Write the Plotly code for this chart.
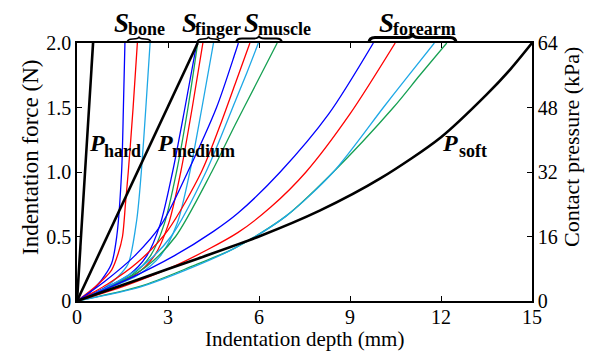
import plotly.graph_objects as go

# ---------------- data ----------------
# Phantom reference lines (depth mm, force N)
p_hard_x = [0, 0.53]
p_hard_y = [0, 2.0]
p_medium_x = [0, 3.98]
p_medium_y = [0, 2.0]
p_soft_x = [0, 2.0, 4.0, 6.0, 8.0, 10.0, 12.0, 13.5, 14.3, 15.0]
p_soft_y = [0, 0.165, 0.33, 0.5, 0.7, 0.95, 1.27, 1.6, 1.8, 2.0]

# S_bone
bone_blue_x = [0, 0.4, 0.8, 1.14, 1.31, 1.47, 1.53, 1.58]
bone_blue_y = [0, 0.06, 0.16, 0.29, 0.5, 1.0, 1.5, 2.0]
bone_red_x = [0, 0.6, 1.14, 1.36, 1.5, 1.6, 1.69, 1.85, 1.99]
bone_red_y = [0, 0.11, 0.24, 0.37, 0.5, 0.76, 1.0, 1.5, 2.0]
bone_cyan_x = [0, 0.8, 1.36, 1.69, 1.97, 2.12, 2.27, 2.41]
bone_cyan_y = [0, 0.085, 0.19, 0.29, 0.63, 1.0, 1.5, 2.0]

# S_finger
finger_y = [0, 0.1, 0.2, 0.35, 0.6, 1.0, 1.5, 2.0]
finger_blue_x = [0, 0.9, 1.7, 2.3, 2.75, 3.15, 3.56, 3.95]
finger_green_x = [0, 0.95, 1.8, 2.42, 2.88, 3.28, 3.66, 3.98]
finger_red_x = [0, 1.0, 1.9, 2.55, 3.02, 3.42, 3.8, 4.15]
finger_cyan_x = [0, 1.05, 2.0, 2.75, 3.3, 3.72, 4.12, 4.5]

# S_muscle
muscle_blue_x = [0, 0.9, 1.9, 2.8, 3.65, 4.6, 5.21, 5.32]
muscle_blue_y = [0, 0.15, 0.35, 0.6, 1.0, 1.5, 1.92, 2.0]
muscle_red_x = [0, 1.0, 2.0, 3.0, 4.1, 4.7, 5.21, 5.70]
muscle_red_y = [0, 0.13, 0.3, 0.55, 1.0, 1.35, 1.68, 2.0]
muscle_cyan_x = [0, 1.1, 2.2, 3.1, 4.25, 5.21, 5.6, 5.98]
muscle_cyan_y = [0, 0.12, 0.28, 0.5, 1.0, 1.545, 1.77, 2.0]
muscle_green_x = [0, 1.2, 2.3, 3.25, 4.44, 5.21, 5.9, 6.6]
muscle_green_y = [0, 0.12, 0.27, 0.5, 1.0, 1.364, 1.68, 2.0]

# S_forearm
forearm_blue_x = [0, 1.6, 3.2, 4.5, 5.3, 6.7, 8.3, 9.77]
forearm_blue_y = [0, 0.16, 0.35, 0.54, 0.68, 1.0, 1.45, 2.0]
forearm_red_x = [0, 1.6, 3.3, 5.3, 6.4, 7.55, 9.0, 10.49]
forearm_red_y = [0, 0.12, 0.28, 0.53, 0.73, 1.0, 1.45, 2.0]
forearm_cyan_x = [0, 2.1, 3.8, 5.2, 6.9, 8.45, 10.1, 10.9, 11.78]
forearm_cyan_y = [0, 0.11, 0.26, 0.41, 0.66, 1.0, 1.5, 1.74, 2.0]
forearm_green_x = [0, 2.1, 3.8, 5.2, 6.9, 8.45, 10.43, 11.3, 12.19]
forearm_green_y = [0, 0.115, 0.27, 0.41, 0.66, 1.0, 1.5, 1.75, 2.0]

# axes
x_ticks = [0, 3, 6, 9, 12, 15]
force_ticks = [0, 0.5, 1.0, 1.5, 2.0]
force_labels = ["0", "0.5", "1.0", "1.5", "2.0"]
pressure_ticks = [0, 16, 32, 48, 64]
x_title = "Indentation depth (mm)"
y_title = "Indentation force (N)"
y2_title = "Contact pressure (kPa)"

# ---------------- styles ----------------
BLUE = "#0000ff"
RED = "#ff0000"
CYAN = "#1ea8e6"
GREEN = "#16a052"
FONT = "Liberation Serif, Times New Roman, Times, serif"

fig = go.Figure()

colored = [
    (bone_blue_x, bone_blue_y, BLUE), (bone_red_x, bone_red_y, RED),
    (bone_cyan_x, bone_cyan_y, CYAN),
    (finger_cyan_x, finger_y, CYAN), (finger_red_x, finger_y, RED),
    (finger_green_x, finger_y, GREEN), (finger_blue_x, finger_y, BLUE),
    (muscle_green_x, muscle_green_y, GREEN), (muscle_cyan_x, muscle_cyan_y, CYAN),
    (muscle_red_x, muscle_red_y, RED), (muscle_blue_x, muscle_blue_y, BLUE),
    (forearm_green_x, forearm_green_y, GREEN), (forearm_cyan_x, forearm_cyan_y, CYAN),
    (forearm_red_x, forearm_red_y, RED), (forearm_blue_x, forearm_blue_y, BLUE),
]
for xs, ys, c in colored:
    fig.add_trace(go.Scatter(x=xs, y=ys, mode="lines",
                             line=dict(color=c, width=1.3, shape="spline", smoothing=0.8),
                             hoverinfo="skip", showlegend=False))

for xs, ys in [(p_hard_x, p_hard_y), (p_medium_x, p_medium_y), (p_soft_x, p_soft_y)]:
    fig.add_trace(go.Scatter(x=xs, y=ys, mode="lines",
                             line=dict(color="black", width=2.6, shape="spline", smoothing=0.8),
                             hoverinfo="skip", showlegend=False))

# invisible trace to activate the right axis
fig.add_trace(go.Scatter(x=[0] * len(pressure_ticks), y=pressure_ticks, yaxis="y2",
                         mode="markers", marker=dict(opacity=0), hoverinfo="skip",
                         showlegend=False))

# page body has an 8px margin: plot area in window pixels = x 77..532, y 43..301
W, H = 593, 351
OFF = 8
PX0, PX1, PY0, PY1 = 77, 532, 43, 301
PW, PH = PX1 - PX0, PY1 - PY0
margin = dict(l=PX0 - OFF, r=W - (PX1 - OFF), t=PY0 - OFF, b=H - (PY1 - OFF))


def px2paper(px, py):
    return (px - PX0) / PW, (PY1 - py) / PH


def brace(px0, px1, yb, ym, yt, w):
    r = min(6, (px1 - px0) / 4)
    xm = (px0 + px1) / 2
    pts = {
        "a": px2paper(px0, yb), "b": px2paper(px0, ym), "c": px2paper(px0 + r, ym),
        "d": px2paper(xm - r, ym), "e": px2paper(xm, ym), "f": px2paper(xm, yt),
        "g": px2paper(xm + r, ym), "h": px2paper(px1 - r, ym), "i": px2paper(px1, ym),
        "j": px2paper(px1, yb),
    }
    p = lambda k: f"{pts[k][0]:.5f},{pts[k][1]:.5f}"
    path = (f"M{p('a')} Q{p('b')} {p('c')} L{p('d')} Q{p('e')} {p('f')} "
            f"Q{p('e')} {p('g')} L{p('h')} Q{p('i')} {p('j')}")
    return dict(type="path", xref="paper", yref="paper", path=path,
                line=dict(color="black", width=w))


shapes = [
    brace(127, 151, 43, 39, 36.5, 1.6),
    brace(197, 220, 43, 39, 36.5, 1.6),
    brace(236, 282, 43, 38.5, 35.5, 1.8),
    brace(369, 456, 43, 37.5, 33, 3.0),
]

annotations = []


def text_at(txt, px, pyc, size, xanchor="left", angle=0):
    x, y = px2paper(px, pyc)
    annotations.append(dict(
        xref="paper", yref="paper", x=x, y=y, xanchor=xanchor, yanchor="middle",
        showarrow=False, borderpad=0, text=txt, textangle=angle,
        font=dict(family=FONT, size=size, color="black")))


def label(letter, sub, px_letter, py_letter, px_sub, py_sub, size, subsize):
    text_at(f"<b><i>{letter}</i></b>", px_letter, py_letter, size)
    text_at(f"<b>{sub}</b>", px_sub, py_sub, subsize)


label("S", "bone", 113, 23, 127, 29, 27, 18)
label("S", "finger", 181, 23, 194, 29, 27, 18)
label("S", "muscle", 243, 23, 257, 29, 27, 18)
label("S", "forearm", 378, 23, 392, 29, 27, 18)
label("P", "hard", 88, 143, 103, 151, 24, 18)
label("P", "medium", 156, 143, 171, 151, 24, 18)
label("P", "soft", 441, 143, 458, 151, 24, 18)

# axis titles
text_at(x_title, 304, 339, 21, xanchor="center")
text_at(y_title, 30, 158, 23, xanchor="center", angle=-90)
text_at(y2_title, 571, 147, 22, xanchor="center", angle=-90)

axis_common = dict(showline=True, linecolor="black", linewidth=1.5, ticks="inside",
                   ticklen=5, tickwidth=1.2, tickcolor="black", showgrid=False,
                   zeroline=False, automargin=False,
                   tickfont=dict(family=FONT, size=20, color="black"))

fig.update_layout(
    width=W, height=H,
    margin=margin,
    paper_bgcolor="white", plot_bgcolor="white",
    font=dict(family=FONT, size=20, color="black"),
    xaxis=dict(range=[0, 15], tickvals=x_ticks, mirror="ticks", ticklabelstandoff=-3,
               **axis_common),
    yaxis=dict(range=[0, 2.0], tickvals=force_ticks, ticktext=force_labels, mirror=True,
               **axis_common),
    yaxis2=dict(range=[0, 64], tickvals=pressure_ticks, overlaying="y", side="right",
                **axis_common),
    shapes=shapes,
    annotations=annotations,
)

fig.write_html("out.html")
